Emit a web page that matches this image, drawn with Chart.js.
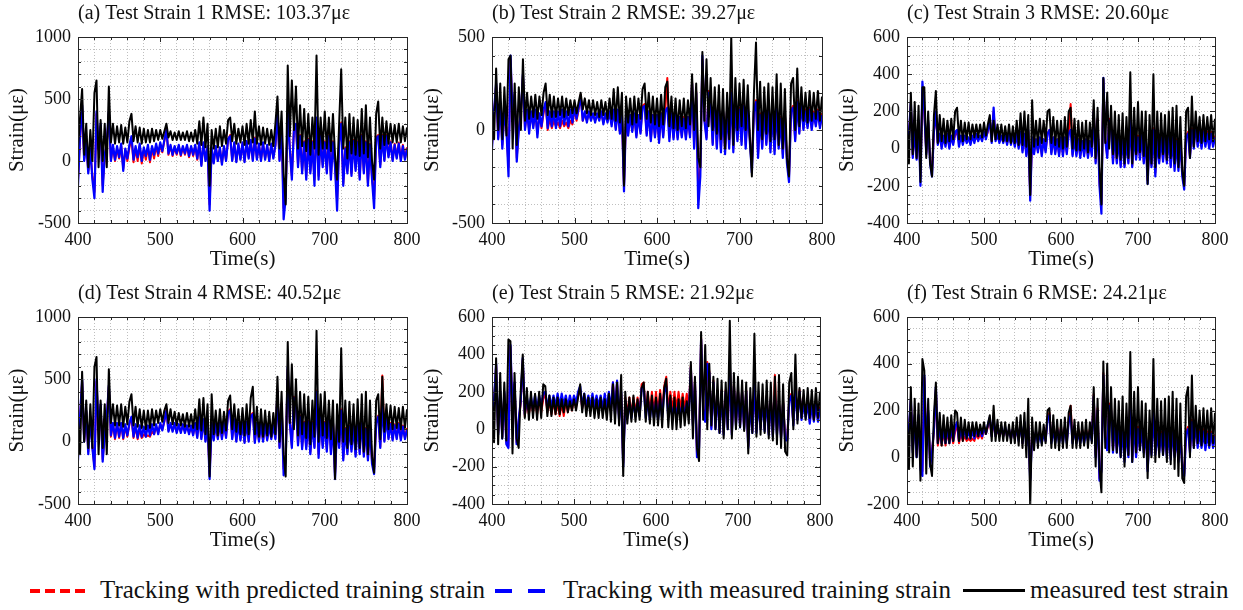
<!DOCTYPE html>
<html>
<head>
<meta charset="utf-8">
<script src="https://cdn.jsdelivr.net/npm/chart.js@4.4.1/dist/chart.umd.min.js"></script>
<style>
body { margin: 0; background: #fff; }
#wrap { position: relative; width: 1243px; height: 610px; background: #fff; font-family: "Liberation Serif", "Times New Roman", serif; }
canvas { position: absolute; }
.lt { position: absolute; top: 576px; font-size: 25px; line-height: 28px; color: #111; white-space: nowrap; }
.sw { position: absolute; top: 589px; height: 4px; }
</style>
</head>
<body>
<div id="wrap">
  <canvas id="pa"></canvas>
  <canvas id="pb"></canvas>
  <canvas id="pc"></canvas>
  <canvas id="pd"></canvas>
  <canvas id="pe"></canvas>
  <canvas id="pf"></canvas>
  <div class="sw" style="left:30px;width:60px;background:repeating-linear-gradient(90deg,#f00 0 10px,transparent 10px 15px)"></div>
  <div class="lt" style="left:100px">Tracking with predicted training strain</div>
  <div class="sw" style="left:495px;width:50px;background:repeating-linear-gradient(90deg,#00f 0 17px,transparent 17px 33px)"></div>
  <div class="lt" style="left:563px">Tracking with measured training strain</div>
  <div class="sw" style="left:963px;width:62px;height:3px;background:#000"></div>
  <div class="lt" style="left:1030px">measured test strain</div>
</div>
<script>
const SERIF = '"Liberation Serif", "Times New Roman", serif';

// sample times (s)
const time = [
  400,402.5,405,407.5,410,412.5,415,417.5,420,422.5,
  425,427.5,430,432.5,435,437.5,440,442.5,445,447.5,
  450,452.5,455,457.5,460,462.5,465,467.5,470,472.5,
  475,477.5,480,482.5,485,487.5,490,492.5,495,497.5,
  500,502.5,505,507.5,510,512.5,515,517.5,520,522.5,
  525,527.5,530,532.5,535,537.5,540,542.5,545,547.5,
  550,552.5,555,557.5,560,562.5,565,567.5,570,572.5,
  575,577.5,580,582.5,585,587.5,590,592.5,595,597.5,
  600,602.5,605,607.5,610,612.5,615,617.5,620,622.5,
  625,627.5,630,632.5,635,637.5,640,642.5,645,647.5,
  650,652.5,655,657.5,660,662.5,665,667.5,670,672.5,
  675,677.5,680,682.5,685,687.5,690,692.5,695,697.5,
  700,702.5,705,707.5,710,712.5,715,717.5,720,722.5,
  725,727.5,730,732.5,735,737.5,740,742.5,745,747.5,
  750,752.5,755,757.5,760,762.5,765,767.5,770,772.5,
  775,777.5,780,782.5,785,787.5,790,792.5,795,797.5,
  800
];

const titles = [
  '(a) Test Strain 1 RMSE: 103.37με',
  '(b) Test Strain 2 RMSE: 39.27με',
  '(c) Test Strain 3 RMSE: 20.60με',
  '(d) Test Strain 4 RMSE: 40.52με',
  '(e) Test Strain 5 RMSE: 21.92με',
  '(f) Test Strain 6 RMSE: 24.21με'
];
const yMin = [-500, -500, -400, -500, -400, -200];
const yMax = [1000, 500, 600, 1000, 600, 600];
const yMajor = [500, 500, 200, 500, 200, 200];
const yMinor = [100, 100, 50, 100, 50, 50];

// measured test strain (black)
const measA = [
  100,350,580,50,300,-50,250,0,550,650,
  -50,330,0,300,-50,600,150,300,140,280,
  150,290,140,270,150,320,380,160,280,150,
  270,140,260,150,250,150,260,160,250,170,
  250,180,240,300,190,240,170,230,170,240,
  170,230,170,240,160,230,160,250,140,320,
  130,350,110,300,-200,250,100,260,110,280,
  120,250,140,330,350,160,300,140,260,150,
  280,130,300,140,330,150,400,140,280,130,
  270,140,260,130,250,120,300,520,100,400,
  -100,-350,770,200,650,250,600,100,450,120,
  420,80,380,50,350,100,850,50,350,100,
  400,100,350,80,380,50,-150,300,740,100,
  350,20,380,60,350,50,330,40,420,60,
  450,30,350,0,-150,380,480,100,350,130,
  320,140,300,150,290,150,300,150,280,160,
  270
];
const measB = [
  150,-50,330,0,250,-50,230,-30,380,400,
  -100,250,-80,230,0,380,50,200,60,180,
  70,190,60,180,80,200,250,80,190,70,
  180,70,170,80,180,70,170,80,160,90,
  160,90,150,200,110,170,90,160,80,160,
  80,150,70,160,80,150,60,170,60,220,
  50,230,40,200,-300,180,40,170,30,180,
  40,170,60,220,250,60,200,40,180,30,
  170,20,190,30,230,260,20,180,10,170,
  0,160,20,170,10,160,30,300,0,250,
  -150,-200,420,50,380,20,280,0,230,-20,
  240,-50,220,-100,200,-50,500,-80,280,0,
  250,20,270,0,240,-30,-250,200,470,0,
  260,-50,230,-20,250,-60,230,-50,300,-80,
  250,-100,220,-150,-250,250,280,0,330,20,
  230,50,200,40,210,50,200,60,210,50,
  180
];
const measC = [
  150,-80,300,-30,250,-50,230,-180,330,330,
  -50,200,-80,-150,180,310,30,180,40,160,
  30,150,40,160,50,200,220,50,150,40,
  140,50,140,50,130,60,130,60,130,60,
  140,70,130,180,40,150,50,130,50,130,
  40,120,40,130,30,120,30,150,20,190,
  20,200,10,180,-250,260,10,150,20,160,
  30,150,40,200,210,30,170,20,150,10,
  150,0,170,10,200,220,0,160,-10,150,
  -10,140,0,150,-20,140,10,260,-50,220,
  -100,-300,380,30,300,0,230,-30,200,-50,
  180,-60,190,-80,170,-50,410,-80,220,-30,
  250,-20,200,-40,200,-190,180,-80,400,-100,
  200,-50,190,-30,180,-60,200,-50,220,-80,
  230,-100,170,-120,-200,200,220,-50,280,10,
  200,40,170,30,180,40,170,50,180,40,
  160
];
const measD = [
  200,-100,560,0,330,-50,300,-50,600,680,
  -100,330,-50,300,-100,580,150,300,130,290,
  130,300,120,280,140,320,380,130,280,120,
  260,110,250,100,250,110,260,130,250,150,
  260,160,250,300,150,260,140,240,130,230,
  130,220,120,230,120,220,110,260,100,340,
  90,350,60,300,-280,380,60,250,50,260,
  70,240,90,330,370,100,300,80,260,60,
  270,50,300,60,350,440,60,280,40,260,
  40,250,50,240,40,230,60,520,0,400,
  -100,-280,800,150,620,100,500,50,400,60,
  380,30,360,-20,330,40,890,0,380,50,
  400,30,330,20,330,-300,300,0,750,0,
  330,-50,320,-20,300,-60,340,-50,380,-80,
  400,-100,330,-120,-250,330,380,20,520,80,
  300,100,290,100,280,110,270,100,280,110,
  260
];
const measE = [
  250,-70,380,-80,300,-50,250,-60,480,470,
  -130,300,-50,-100,200,400,60,220,50,200,
  60,190,50,200,60,240,230,70,180,70,
  170,80,170,80,160,90,160,90,150,100,
  160,100,170,240,90,190,70,170,70,170,
  60,160,60,170,60,160,50,190,40,240,
  30,250,20,290,-250,200,30,170,40,180,
  40,160,50,220,250,40,200,30,180,20,
  170,20,190,10,220,270,10,180,0,170,
  0,160,10,170,20,150,30,360,-50,280,
  -100,-170,520,50,450,0,350,20,280,0,
  270,-20,260,-50,250,0,580,-50,300,0,
  280,10,260,-10,250,-130,220,-20,510,-40,
  250,-30,240,-20,260,-50,250,-60,280,-80,
  290,-100,240,-120,-140,250,300,0,400,30,
  220,60,210,50,220,60,210,50,220,60,
  200
];
const measF = [
  200,-50,300,-40,250,0,230,-100,420,370,
  -70,250,-30,-80,180,320,60,190,50,180,
  60,170,60,180,70,200,190,70,170,70,
  160,80,150,80,150,90,150,90,140,100,
  150,100,140,180,70,220,70,160,70,150,
  70,150,70,140,60,150,60,170,50,180,
  40,190,0,250,-210,170,30,150,40,150,
  50,140,60,200,210,40,180,40,160,30,
  160,40,170,40,190,220,40,160,40,150,
  40,150,50,160,40,150,60,300,-40,250,
  -50,-150,410,40,400,20,300,30,250,20,
  240,0,260,-40,230,10,450,-20,280,20,
  300,30,240,0,230,-90,200,0,420,-20,
  250,0,240,10,250,-20,260,-30,280,-50,
  250,-80,230,-90,-110,260,300,0,350,40,
  220,60,200,50,210,60,200,50,210,60,
  190
];

// tracking with measured training strain (blue)
const blueA = [
  -200,200,450,0,150,-100,100,-150,-300,400,
  100,300,-250,50,150,400,0,130,10,120,
  30,140,-80,100,20,130,200,10,120,30,
  140,0,110,40,130,10,120,50,140,60,
  150,80,170,250,60,130,50,120,60,130,
  50,120,60,130,40,120,50,130,20,150,
  -40,150,0,120,-400,110,-20,120,0,110,
  -30,120,0,180,200,0,150,-10,140,10,
  150,-10,160,20,170,0,180,10,140,0,
  150,10,130,0,140,20,130,400,0,300,
  -470,-300,400,100,-150,250,300,-50,200,-100,
  150,-150,170,-100,150,-200,350,-150,200,-50,
  150,-100,200,-150,150,-50,-400,150,300,-200,
  100,-100,150,-120,160,-80,150,-150,200,-100,
  150,-200,130,-150,-380,180,200,-50,200,0,
  200,30,150,0,130,20,140,0,120,10,
  100
];
const blueB = [
  -100,100,250,-50,150,-100,100,0,-250,400,
  50,200,-170,0,100,300,0,110,-20,100,
  10,110,-40,90,20,110,150,10,100,20,
  100,10,100,20,110,30,100,20,110,40,
  120,60,120,180,50,100,40,100,50,90,
  40,90,50,100,30,90,40,100,20,110,
  0,110,-20,80,-330,90,-30,80,-10,90,
  -40,80,-20,120,130,-30,100,-60,80,-40,
  80,-70,90,-40,100,120,-60,90,-50,80,
  -50,70,-40,60,-50,70,-40,250,-100,200,
  -420,-250,400,50,-50,200,150,-80,150,-100,
  120,-120,100,-130,110,-100,200,-120,130,-60,
  110,-80,130,-100,110,-60,-230,100,150,-150,
  80,-100,110,-80,100,-120,100,-130,120,-100,
  60,-150,80,-180,-280,100,120,-60,150,-20,
  150,0,100,10,110,0,90,20,100,10,
  80
];
const blueC = [
  -80,80,250,-50,100,-60,150,-200,360,200,
  -30,150,-80,-150,100,200,20,80,0,70,
  10,80,0,70,20,90,100,10,70,20,
  70,30,60,20,70,30,80,40,70,40,
  90,50,100,150,30,220,40,80,30,70,
  30,70,20,80,20,70,10,80,0,90,
  -20,80,-40,100,-280,60,-30,50,-20,60,
  -40,50,-20,80,100,-30,60,-30,50,-40,
  60,-40,60,-30,80,100,-40,60,-40,50,
  -50,40,-40,50,-50,40,-40,200,-80,150,
  -200,-350,380,50,-50,150,120,-80,80,-80,
  60,-100,70,-100,50,-80,150,-100,80,-60,
  60,-60,80,-80,60,-190,50,-100,100,-150,
  50,-80,60,-70,60,-80,70,-100,60,-120,
  40,-120,50,-150,-220,60,80,-50,100,0,
  130,10,90,0,90,10,80,0,80,10,
  60
];
const blueD = [
  -150,200,500,0,250,-100,200,-50,-220,500,
  100,300,-160,50,200,450,50,150,30,150,
  40,150,30,140,50,150,200,40,140,30,
  130,40,120,40,130,50,140,60,140,60,
  150,90,170,250,80,150,80,150,70,140,
  70,140,70,130,60,130,50,150,30,200,
  20,180,0,150,-300,150,10,140,20,150,
  20,150,30,230,250,20,180,0,150,10,
  150,-10,160,0,200,220,-10,150,0,140,
  0,140,10,130,20,130,20,400,-50,300,
  -270,-150,600,150,-50,350,300,-30,200,-60,
  150,-60,160,-100,150,-50,400,-130,200,-50,
  150,-80,200,-100,150,-300,150,-50,250,-150,
  100,-100,120,-80,130,-120,150,-100,180,-120,
  100,-150,120,-180,-260,150,200,-50,300,0,
  200,20,140,10,130,20,140,10,120,20,
  100
];
const blueE = [
  -50,150,350,-30,200,-50,200,-80,-100,450,
  100,250,-80,50,150,380,80,170,100,170,
  110,180,100,180,120,190,200,110,180,120,
  180,120,190,120,190,130,180,120,180,130,
  180,140,200,230,120,190,120,180,120,190,
  120,180,120,180,110,190,110,200,100,250,
  80,260,50,200,-200,150,60,140,60,150,
  70,140,70,220,230,60,160,50,150,60,
  150,50,160,60,200,230,60,150,60,140,
  70,140,70,140,80,140,80,330,20,250,
  -150,-100,480,100,40,350,300,0,250,0,
  200,-20,200,-30,200,0,350,-30,230,20,
  200,10,200,0,200,-100,150,-20,250,-20,
  150,0,160,-10,170,-30,160,-40,180,-30,
  130,-50,140,-60,-60,150,180,20,220,50,
  200,50,140,60,140,30,130,40,130,40,
  110
];
const blueF = [
  0,120,250,20,180,0,180,-50,-80,350,
  60,200,-40,20,120,300,60,130,60,120,
  60,130,60,130,70,130,150,70,120,80,
  120,80,110,80,110,80,120,90,120,90,
  130,100,140,170,90,170,90,130,90,130,
  90,130,90,120,80,120,80,130,70,150,
  60,150,50,130,-100,100,60,110,60,100,
  60,100,70,160,180,60,120,60,120,60,
  120,60,130,60,150,180,60,120,60,110,
  60,110,60,110,70,110,70,260,0,200,
  -100,-60,350,80,30,220,200,20,150,20,
  130,0,120,-20,120,0,250,-20,150,0,
  120,30,120,20,110,-60,100,10,200,10,
  100,20,100,10,110,0,110,-10,120,0,
  90,-20,90,-40,-80,100,120,20,150,40,
  150,40,110,40,110,30,100,40,100,40,
  90
];

// tracking with predicted training strain (red)
const redA = [
  -150,180,420,20,140,-80,90,-120,-250,380,
  90,280,-200,40,140,380,10,110,0,100,
  20,120,-60,90,0,110,180,-10,100,0,
  120,-20,90,10,110,-10,100,20,120,40,
  130,70,160,260,50,120,40,110,50,120,
  40,110,50,120,30,110,40,120,10,140,
  -30,140,10,110,-350,100,-10,110,10,100,
  -20,110,10,170,210,10,140,0,130,20,
  140,0,150,30,160,10,190,20,130,10,
  140,20,120,10,130,30,120,410,10,310,
  -380,-250,380,110,-120,260,290,-30,210,-80,
  160,-120,180,-80,160,-150,330,-120,210,-30,
  160,-80,210,-120,160,-30,-320,160,310,-180,
  110,-80,160,-100,170,-60,160,-130,210,-80,
  160,-180,140,-130,-300,190,210,-30,210,10,
  210,40,160,10,140,30,150,10,130,20,
  110
];
const redB = [
  -80,90,240,-40,140,-80,90,10,-200,380,
  60,190,-150,10,90,290,10,100,0,90,
  20,100,-20,80,10,90,140,0,60,10,
  50,20,40,10,50,20,40,10,50,30,
  110,50,110,190,50,90,50,90,60,80,
  50,80,60,90,40,80,50,90,30,100,
  10,100,-10,70,-300,80,-20,80,0,80,
  -30,80,-10,130,140,-20,100,-50,80,-30,
  80,-60,90,-30,110,280,-40,90,-40,80,
  -40,70,-30,70,-40,70,-30,260,-90,210,
  -350,-200,380,60,-40,210,160,-70,160,-90,
  130,-100,110,-110,120,-80,210,-100,140,-50,
  120,-60,140,-80,120,-50,-200,110,160,-130,
  90,-90,120,-70,110,-100,110,-110,130,-90,
  70,-130,90,-160,-250,110,130,-50,160,-10,
  160,10,110,20,120,10,100,30,110,20,
  90
];
const redC = [
  -60,70,240,-40,90,-50,140,-150,300,190,
  -20,140,-60,-120,90,190,30,70,10,60,
  20,70,10,60,30,70,90,40,60,40,
  50,40,50,40,60,40,60,50,60,50,
  80,60,90,160,40,200,50,70,40,60,
  40,60,30,70,30,60,20,70,10,80,
  -10,70,-30,90,-250,50,-20,50,-10,50,
  -30,50,-10,80,100,-20,60,-20,50,-30,
  60,-30,60,-20,80,240,-30,60,-30,50,
  -40,40,-30,50,-40,40,-30,210,-70,160,
  -180,-300,370,60,-40,160,130,-70,90,-70,
  70,-90,80,-90,60,-70,160,-90,90,-50,
  70,-50,90,-70,70,-170,60,-90,110,-130,
  60,-70,70,-60,70,-70,80,-90,70,-100,
  50,-100,60,-130,-200,70,90,-40,110,10,
  140,20,100,10,100,20,90,10,90,20,
  70
];
const redD = [
  -120,190,480,10,240,-80,190,-40,-200,480,
  90,290,-140,60,190,440,40,140,20,140,
  30,140,20,120,40,140,190,30,120,20,
  100,30,60,40,50,40,80,60,120,70,
  140,100,160,260,90,140,90,140,80,130,
  80,130,80,130,70,120,60,140,40,210,
  30,170,10,140,-260,140,20,130,30,140,
  30,140,40,240,260,30,170,10,150,20,
  150,0,160,10,210,230,0,150,10,140,
  10,140,20,130,30,130,30,410,-40,310,
  -220,-120,580,160,-30,360,310,-20,210,-40,
  160,-40,170,-80,160,-40,410,-100,210,-30,
  160,-60,210,-80,160,-260,160,-30,260,-130,
  110,-80,130,-60,140,-100,160,-80,190,-100,
  110,-130,130,-160,-220,160,210,-40,530,10,
  210,30,150,20,140,30,150,20,130,30,
  110
];
const redE = [
  -40,140,340,-20,190,-40,190,-70,-90,440,
  90,240,-70,40,140,370,70,150,80,150,
  90,160,80,160,90,160,190,90,150,80,
  150,80,140,70,140,70,150,90,150,100,
  160,120,180,210,110,170,110,160,110,170,
  110,160,110,160,100,170,100,180,100,250,
  90,250,60,190,-180,170,80,170,80,170,
  90,170,90,240,250,90,200,90,200,90,
  200,90,210,100,230,280,100,200,100,200,
  110,200,110,190,110,190,110,340,30,260,
  -140,-90,490,110,50,360,310,10,260,10,
  210,-10,210,-20,210,10,360,-20,240,30,
  210,20,210,10,210,-90,160,-10,260,-10,
  160,10,170,0,180,-20,170,-30,290,-20,
  140,-40,150,-50,-50,160,190,30,230,60,
  210,60,150,70,150,40,140,50,140,50,
  120
];
const redF = [
  20,110,240,30,170,10,170,-40,-60,340,
  70,190,-30,30,110,290,50,110,50,110,
  50,110,60,110,60,110,140,60,100,70,
  90,70,80,70,80,70,100,80,100,80,
  120,100,130,160,90,160,90,120,90,120,
  90,120,90,120,80,120,80,120,80,150,
  60,150,60,140,-90,110,70,110,70,110,
  70,110,70,170,190,70,130,70,130,70,
  130,70,130,70,160,220,70,120,70,120,
  70,120,70,120,80,120,80,270,10,210,
  -90,-50,360,90,40,230,210,30,160,30,
  140,10,130,-10,130,10,260,-10,160,10,
  130,40,130,30,120,-50,110,20,210,20,
  110,30,110,20,120,10,120,0,130,10,
  100,-10,100,-30,-70,110,130,30,160,50,
  160,50,120,50,120,40,110,50,110,50,
  100
];

const meas = [measA, measB, measC, measD, measE, measF];
const blue = [blueA, blueB, blueC, blueD, blueE, blueF];
const red = [redA, redB, redC, redD, redE, redF];

// where each panel's canvas sits, and its plot-area left/right/bottom inside it
const panels = [
  { id: 'pa', left: 0,   top: 0,   plotL: 78, plotR: 407, plotB: 223 },
  { id: 'pb', left: 415, top: 0,   plotL: 77, plotR: 407, plotB: 223 },
  { id: 'pc', left: 830, top: 0,   plotL: 77, plotR: 385, plotB: 223 },
  { id: 'pd', left: 0,   top: 280, plotL: 78, plotR: 407, plotB: 224 },
  { id: 'pe', left: 415, top: 280, plotL: 77, plotR: 405, plotB: 224 },
  { id: 'pf', left: 830, top: 280, plotL: 77, plotR: 385, plotB: 224 }
];
const RIGHT_PAD = 21;

// box round the axes with small inward ticks, like the original figure
const frame = {
  id: 'frame',
  afterDatasetsDraw(chart, args, opts) {
    const { ctx, chartArea: a, scales: { x, y } } = chart;
    ctx.save();
    ctx.strokeStyle = '#262626';
    ctx.lineWidth = 1;
    ctx.beginPath();
    x.ticks.forEach(t => {
      const px = Math.round(x.getPixelForValue(t.value)) + 0.5;
      const len = t.value % 100 === 0 ? 5 : 3;
      ctx.moveTo(px, a.bottom); ctx.lineTo(px, a.bottom - len);
      ctx.moveTo(px, a.top); ctx.lineTo(px, a.top + len);
    });
    y.ticks.forEach(t => {
      const py = Math.round(y.getPixelForValue(t.value)) + 0.5;
      const len = t.value % opts.major === 0 ? 5 : 3;
      ctx.moveTo(a.left, py); ctx.lineTo(a.left + len, py);
      ctx.moveTo(a.right, py); ctx.lineTo(a.right - len, py);
    });
    ctx.stroke();
    ctx.strokeRect(Math.round(a.left) + 0.5, Math.round(a.top) + 0.5,
      Math.round(a.right - a.left), Math.round(a.bottom - a.top));
    ctx.restore();
  }
};

panels.forEach((p, k) => {
  const el = document.getElementById(p.id);
  el.width = p.plotR + RIGHT_PAD;
  el.height = p.plotB + 57;
  el.style.left = p.left + 'px';
  el.style.top = p.top + 'px';
  const grid = { color: 'rgba(0,0,0,0.25)', lineWidth: 1, drawTicks: false };
  const border = { display: false, dash: [1, 2] };
  const line = (arr, color, width) => ({
    data: time.map((t, i) => ({ x: t, y: arr[i] })),
    borderColor: color, borderWidth: width, borderJoinStyle: 'round', clip: 0
  });
  new Chart(el, {
    type: 'line',
    data: {
      datasets: [
        { label: 'measured test strain', ...line(meas[k], '#000', 2) },
        { label: 'Tracking with measured training strain', ...line(blue[k], '#0000ff', 2.2) },
        { label: 'Tracking with predicted training strain', ...line(red[k], '#ff0000', 2) }
      ]
    },
    options: {
      responsive: false,
      animation: false,
      events: [],
      layout: { padding: { left: 0, right: RIGHT_PAD, top: 0, bottom: 0 } },
      elements: { point: { radius: 0 }, line: { tension: 0 } },
      plugins: {
        legend: { display: false },
        tooltip: { enabled: false },
        title: {
          display: true, text: titles[k], align: 'start', fullSize: false, color: '#111',
          font: { family: SERIF, size: 20, weight: 'normal' }, padding: { top: 2, bottom: 11 }
        },
        frame: { major: yMajor[k] }
      },
      scales: {
        x: {
          type: 'linear', min: 400, max: 800,
          ticks: { stepSize: 20, autoSkip: false, maxRotation: 0, padding: 6, color: '#111',
            font: { family: SERIF, size: 18 }, callback: v => (v % 100 === 0 ? String(v) : '') },
          grid, border,
          title: { display: true, text: 'Time(s)', color: '#111', font: { family: SERIF, size: 21 },
            padding: { top: 0, bottom: 8 } },
          afterFit: s => { s.height = 57; }
        },
        y: {
          type: 'linear', min: yMin[k], max: yMax[k],
          ticks: { stepSize: yMinor[k], autoSkip: false, padding: 7, color: '#111',
            font: { family: SERIF, size: 18 }, callback: v => (v % yMajor[k] === 0 ? String(v) : '') },
          grid, border,
          title: { display: true, text: 'Strain(με)', color: '#111', font: { family: SERIF, size: 21 },
            padding: { top: 5, bottom: 0 } },
          afterFit: s => { s.width = p.plotL; }
        }
      }
    },
    plugins: [frame]
  });
});
</script>
</body>
</html>
